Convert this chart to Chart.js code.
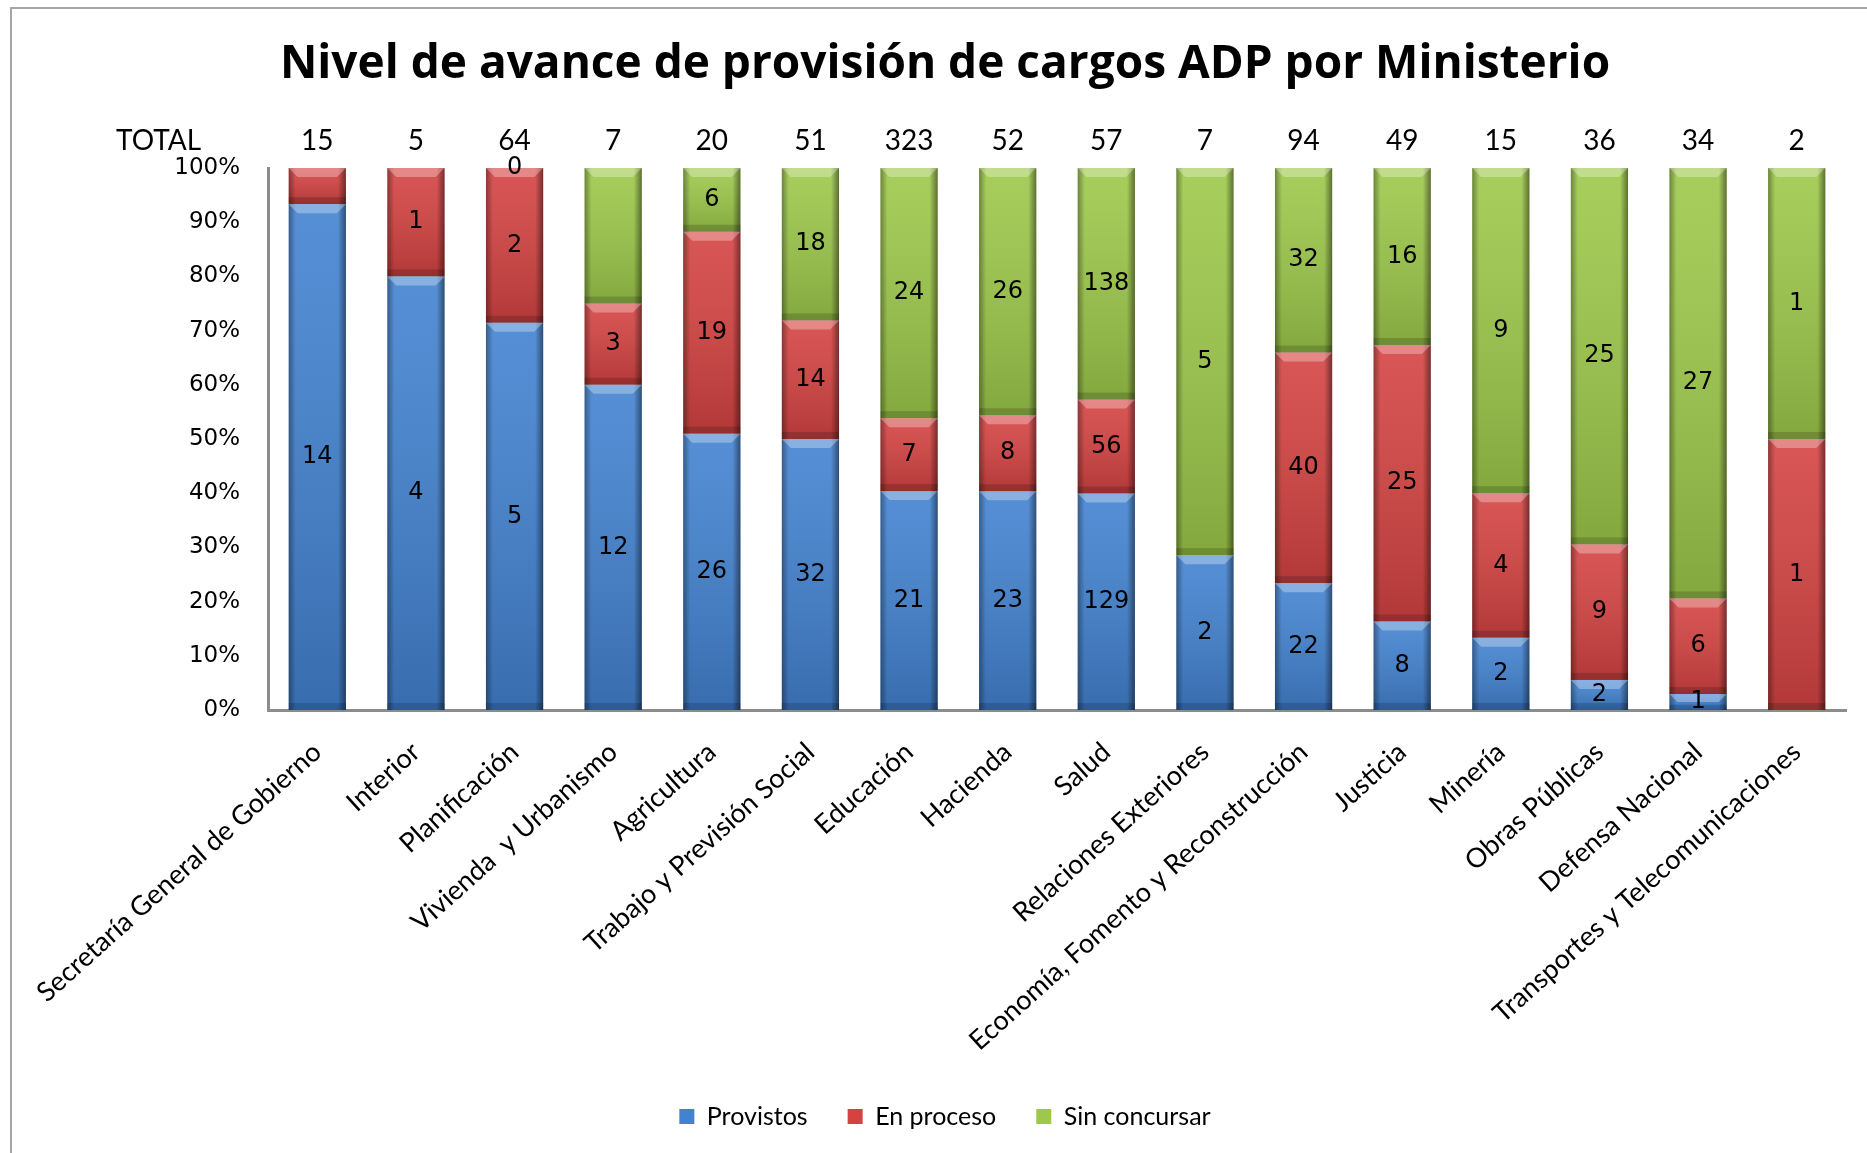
<!DOCTYPE html>
<html>
<head>
<meta charset="utf-8">
<script src="https://cdn.jsdelivr.net/npm/chart.js@4.4.1/dist/chart.umd.min.js"></script>
<style>
  body { margin: 0; background: #fff; overflow: hidden; }
  #wrap { position: absolute; left: 0; top: 0; width: 1867px; height: 1153px; }
  #frame { position: absolute; left: 10px; top: 7px; width: 2000px; height: 2000px; border: 2px solid #a6a6a6; pointer-events: none; }
</style>
</head>
<body>
<div id="frame"></div>
<div id="wrap"><canvas id="adpChart"></canvas></div>
<script>
// Ministerios (eje x)
const ministerios = [
  "Secretaría General de Gobierno", "Interior", "Planificación", "Vivienda  y Urbanismo",
  "Agricultura", "Trabajo y Previsión Social", "Educación", "Hacienda", "Salud",
  "Relaciones Exteriores", "Economía, Fomento y Reconstrucción", "Justicia", "Minería",
  "Obras Públicas", "Defensa Nacional", "Transportes y Telecomunicaciones"
];

// Fila TOTAL (tal como aparece sobre el gráfico)
const totales = ["15", "5", "64", "7", "20", "51", "323", "52", "57", "7", "94", "49", "15", "36", "34", "2"];

// Cantidad de cargos por estado
const provistos    = [14, 4, 5, 12, 26, 32, 21, 23, 129, 2, 22, 8, 2, 2, 1, 0];
const enProceso    = [1, 1, 2, 3, 19, 14, 7, 8, 56, 0, 40, 25, 4, 9, 6, 1];
const sinConcursar = [0, 0, 0, 5, 6, 18, 24, 26, 138, 5, 32, 16, 9, 25, 27, 1];

// Etiquetas que no se muestran en el original: [serie, ministerio]
const ocultas = [[0, 15], [1, 0], [1, 9], [2, 0], [2, 1], [2, 3]];

const yTicks = [0, 10, 20, 30, 40, 50, 60, 70, 80, 90, 100];

// Pasar a porcentaje de cada ministerio
function toPercent(serie) {
  return serie.map((v, i) => {
    const tot = provistos[i] + enProceso[i] + sinConcursar[i];
    return tot ? (v / tot) * 100 : 0;
  });
}

const PLOT_TOP = 168;
const PLOT_BOTTOM = 710;
const PAD_BOTTOM = 14;

// Sombreado tipo "bisel" y etiquetas de datos
const bevelPlugin = {
  id: "bevel",
  afterDatasetsDraw(chart) {
    const ctx = chart.ctx;
    ctx.save();
    chart.data.datasets.forEach((ds, i) => {
      chart.getDatasetMeta(i).data.forEach(bar => {
        const left = bar.x - bar.width / 2;
        const right = bar.x + bar.width / 2;
        const top = Math.min(bar.y, bar.base);
        const bottom = Math.max(bar.y, bar.base);
        const h = bottom - top;
        if (h < 1) return;
        let g = ctx.createLinearGradient(0, top, 0, bottom);
        g.addColorStop(0, "rgba(255,255,255,0.10)");
        g.addColorStop(1, "rgba(0,0,0,0.16)");
        ctx.fillStyle = g;
        ctx.fillRect(left, top, right - left, h);
        // bordes laterales
        g = ctx.createLinearGradient(left, 0, left + 7, 0);
        g.addColorStop(0, "rgba(0,0,0,0.35)");
        g.addColorStop(1, "rgba(0,0,0,0)");
        ctx.fillStyle = g;
        ctx.fillRect(left, top, 7, h);
        g = ctx.createLinearGradient(right - 8, 0, right, 0);
        g.addColorStop(0, "rgba(0,0,0,0)");
        g.addColorStop(1, "rgba(0,0,0,0.45)");
        ctx.fillStyle = g;
        ctx.fillRect(right - 8, top, 8, h);
        // brillo superior
        const bh = Math.min(9, h / 2);
        ctx.beginPath();
        ctx.moveTo(left, top);
        ctx.lineTo(right, top);
        ctx.lineTo(right - bh, top + bh);
        ctx.lineTo(left + bh, top + bh);
        ctx.closePath();
        ctx.fillStyle = "rgba(255,255,255,0.30)";
        ctx.fill();
        // sombra inferior
        const sh = Math.min(7, h / 3);
        ctx.fillStyle = "rgba(0,0,0,0.16)";
        ctx.fillRect(left, bottom - sh, right - left, sh);
      });
    });

    // etiquetas de datos
    ctx.font = "24px 'DejaVu Sans'";
    ctx.fillStyle = "#000";
    ctx.textAlign = "center";
    ctx.textBaseline = "middle";
    chart.data.datasets.forEach((ds, i) => {
      chart.getDatasetMeta(i).data.forEach((bar, j) => {
        if (ocultas.some(o => o[0] === i && o[1] === j)) return;
        ctx.fillText(String(ds.counts[j]), bar.x, (bar.y + bar.base) / 2);
      });
    });
    ctx.restore();
  },
  afterDraw(chart) {
    const ctx = chart.ctx;
    const x2 = chart.scales.x2;
    ctx.save();
    ctx.font = "28px Lato";
    ctx.fillStyle = "#000";
    ctx.textAlign = "left";
    ctx.textBaseline = "middle";
    ctx.fillText("TOTAL", 116, x2.bottom - 10 - 28 * 1.2 / 2);
    ctx.restore();
  }
};

Chart.defaults.font.family = "Lato";
Chart.defaults.color = "#000";

const ctx = document.getElementById("adpChart").getContext("2d");
const adpChart = new Chart(ctx, {
  type: "bar",
  data: {
    labels: ministerios,
    datasets: [
      { label: "Provistos", data: toPercent(provistos), counts: provistos, backgroundColor: "#4282d0" },
      { label: "En proceso", data: toPercent(enProceso), counts: enProceso, backgroundColor: "#d44342" },
      { label: "Sin concursar", data: toPercent(sinConcursar), counts: sinConcursar, backgroundColor: "#9dc84a" }
    ]
  },
  options: {
    responsive: true,
    maintainAspectRatio: false,
    animation: false,
    barPercentage: 0.58,
    categoryPercentage: 1,
    layout: { padding: { left: 44, right: 21, top: 0, bottom: PAD_BOTTOM } },
    scales: {
      x: {
        stacked: true,
        grid: { display: false, drawTicks: false },
        border: { display: true, color: "#8c8c8c", width: 3 },
        ticks: {
          autoSkip: false,
          minRotation: 42,
          maxRotation: 42,
          padding: 26,
          font: { size: 27 }
        },
        afterFit(scale) {
          const lg = scale.chart.legend ? scale.chart.legend.height : 80;
          scale.height = scale.chart.height - PLOT_BOTTOM - lg - PAD_BOTTOM;
        }
      },
      x2: {
        type: "category",
        position: "top",
        labels: totales,
        offset: true,
        grid: { display: false, drawTicks: false },
        border: { display: false },
        ticks: { padding: 10, font: { size: 28 } },
        afterFit(scale) {
          const tb = scale.chart.titleBlock ? scale.chart.titleBlock.height : 95;
          scale.height = PLOT_TOP - tb;
        }
      },
      y: {
        stacked: true,
        min: 0,
        max: 100,
        grid: { display: false, drawTicks: false },
        border: { display: true, color: "#8c8c8c", width: 3 },
        afterBuildTicks(scale) {
          scale.ticks = yTicks.map(v => ({ value: v }));
        },
        ticks: {
          padding: 28,
          font: { family: "'DejaVu Sans'", size: 23 },
          callback: v => v + "%"
        },
        afterFit(scale) {
          scale.width = 268 - 44;
        }
      }
    },
    plugins: {
      title: {
        display: true,
        text: "Nivel de avance de provisión de cargos ADP por Ministerio",
        font: { family: "'Open Sans'", size: 46, weight: "bold" },
        color: "#000",
        padding: { top: 37, bottom: 5 }
      },
      legend: {
        display: true,
        position: "bottom",
        labels: {
          boxWidth: 15,
          boxHeight: 15,
          padding: 40,
          font: { size: 25 }
        }
      },
      tooltip: { enabled: false }
    }
  },
  plugins: [bevelPlugin]
});
</script>
</body>
</html>
